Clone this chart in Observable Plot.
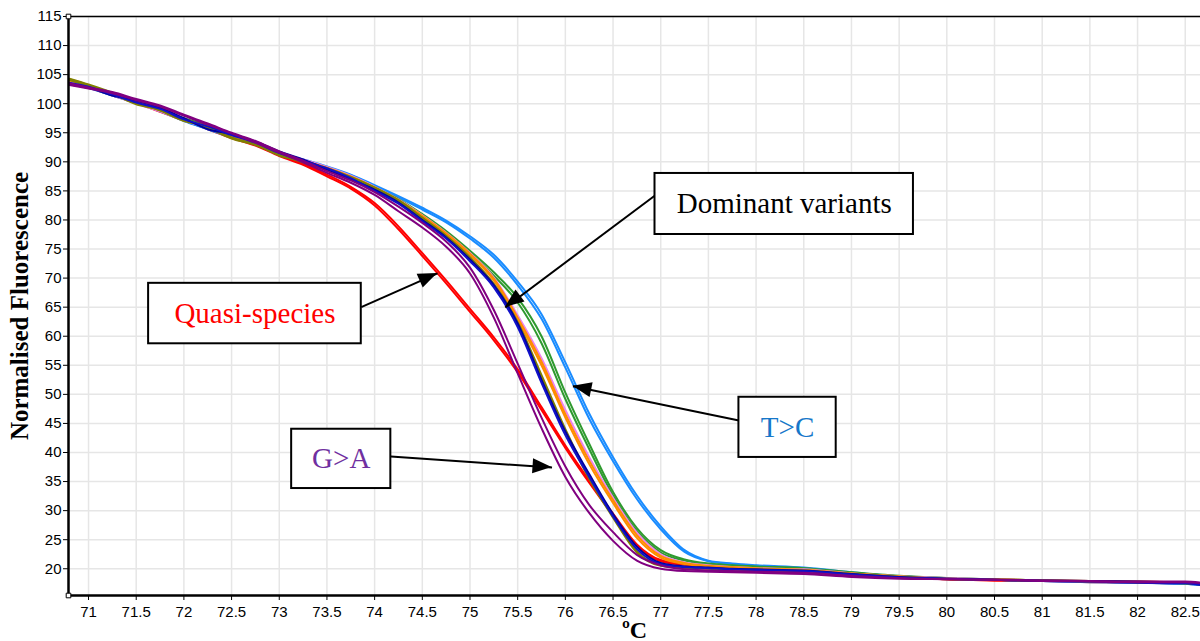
<!DOCTYPE html>
<html>
<head>
<meta charset="utf-8">
<script src="https://cdn.jsdelivr.net/npm/d3@7"></script>
<script src="https://cdn.jsdelivr.net/npm/@observablehq/plot@0.6"></script>
<style>
  html, body { margin: 0; padding: 0; background: #fff; }
  #chart svg { display: block; }
</style>
</head>
<body>
<div id="chart"></div>
<script>
// Melt-curve temperatures (ºC)
const temps = [70.8, 71, 71.25, 71.5, 71.75, 72, 72.25, 72.5, 72.75, 73, 73.25, 73.5, 73.75, 74, 74.25, 74.5, 74.75, 75, 75.25, 75.5, 75.75, 76, 76.25, 76.5, 76.75, 77, 77.25, 77.5, 77.75, 78, 78.5, 79, 79.5, 80, 80.5, 81, 81.5, 82, 82.5, 82.66];

// Normalised fluorescence, one array per sample
const quasiA = [103.6, 102.9, 101.6, 100.3, 98.8, 97.3, 95.8, 94.3, 93.0, 91.2, 89.7, 87.8, 85.7, 82.9, 78.9, 74.3, 69.6, 64.7, 59.8, 54.3, 47.8, 41.2, 35.2, 29.5, 24.2, 21.5, 20.8, 20.5, 20.3, 20.1, 19.8, 19.2, 18.6, 18.2, 18.0, 17.9, 17.8, 17.6, 17.5, 17.3];
const quasiB = [103.3, 102.7, 101.4, 100.1, 98.6, 97.1, 95.6, 94.1, 92.8, 91.0, 89.5, 87.5, 85.4, 82.5, 78.4, 73.8, 69.1, 64.2, 59.3, 53.8, 47.3, 40.8, 34.8, 29.2, 24.0, 21.3, 20.7, 20.4, 20.2, 20.0, 19.7, 19.1, 18.6, 18.2, 18.0, 17.9, 17.7, 17.6, 17.4, 17.3];
const tcA = [103.5, 102.8, 101.5, 100.2, 98.8, 97.1, 95.7, 94.4, 93.2, 91.3, 90.4, 89.2, 87.8, 86.0, 84.1, 82.1, 79.9, 77.2, 74.0, 69.4, 63.8, 55.5, 46.7, 39.2, 32.6, 27.3, 23.2, 21.4, 20.9, 20.6, 20.2, 19.4, 18.7, 18.3, 18.1, 17.9, 17.7, 17.6, 17.4, 17.2];
const tcB = [103.4, 102.7, 101.4, 100.1, 98.7, 97.0, 95.6, 94.2, 93.0, 91.2, 90.2, 89.0, 87.7, 85.8, 83.9, 81.8, 79.6, 76.8, 73.5, 68.8, 63.0, 54.6, 45.8, 38.5, 32.0, 26.8, 22.9, 21.3, 20.8, 20.5, 20.1, 19.3, 18.7, 18.3, 18.1, 17.9, 17.8, 17.6, 17.4, 17.2];
const greenA = [103.9, 103.1, 101.8, 100.6, 99.2, 97.5, 96.3, 94.6, 93.4, 91.6, 90.3, 88.8, 87.5, 85.5, 83.6, 81.0, 78.1, 74.7, 71.0, 66.6, 60.0, 50.3, 41.5, 33.2, 27.0, 23.2, 21.6, 20.9, 20.6, 20.4, 20.1, 19.4, 18.8, 18.4, 18.2, 18.0, 17.9, 17.7, 17.5, 17.3];
const greenB = [103.7, 102.9, 101.6, 100.4, 99.1, 97.4, 96.1, 94.4, 93.2, 91.4, 90.1, 88.7, 87.3, 85.3, 83.3, 80.7, 77.8, 74.3, 70.4, 65.8, 58.8, 49.2, 40.6, 32.6, 26.5, 22.8, 21.4, 20.8, 20.5, 20.3, 20.0, 19.3, 18.7, 18.4, 18.2, 18.0, 17.8, 17.7, 17.5, 17.3];
const pinkA = [103.8, 103.0, 101.5, 100.0, 98.7, 97.1, 95.9, 94.3, 93.1, 91.4, 90.4, 89.1, 87.6, 85.7, 83.5, 80.8, 77.8, 74.3, 70.1, 63.6, 56.2, 47.3, 39.2, 32.2, 26.2, 22.5, 21.1, 20.6, 20.3, 20.1, 19.9, 19.2, 18.7, 18.4, 18.2, 18.0, 17.9, 17.8, 17.6, 17.5];
const orangeA = [104.2, 103.2, 101.6, 100.2, 98.9, 97.4, 95.8, 94.4, 93.2, 91.5, 90.3, 88.9, 87.4, 85.5, 83.3, 80.6, 77.5, 74.0, 69.6, 62.8, 55.0, 46.0, 38.0, 31.3, 25.3, 21.9, 20.8, 20.4, 20.2, 20.0, 19.8, 19.2, 18.6, 18.3, 18.1, 18.0, 17.9, 17.8, 17.6, 17.4];
const orangeB = [104.0, 103.1, 101.8, 100.3, 99.0, 97.3, 96.0, 94.5, 93.4, 91.6, 90.2, 89.0, 87.5, 85.6, 83.4, 80.7, 77.7, 74.2, 69.9, 63.2, 55.6, 46.6, 38.6, 31.8, 25.8, 22.2, 21.0, 20.5, 20.3, 20.1, 19.8, 19.2, 18.7, 18.3, 18.2, 18.0, 17.9, 17.8, 17.6, 17.5];
const oliveA = [104.3, 103.3, 101.9, 100.1, 98.8, 97.0, 96.2, 94.2, 93.0, 91.1, 90.1, 88.9, 87.4, 85.6, 83.4, 80.4, 77.3, 73.6, 69.0, 62.4, 53.3, 44.0, 35.8, 29.2, 23.0, 20.6, 20.2, 20.1, 19.9, 19.8, 19.6, 19.1, 18.6, 18.2, 18.1, 18.0, 17.8, 17.7, 17.5, 17.4];
const oliveB = [104.1, 103.0, 101.7, 99.9, 99.0, 97.2, 95.9, 94.0, 92.9, 91.3, 89.9, 88.6, 87.2, 85.4, 83.2, 80.2, 77.1, 73.4, 68.7, 62.0, 52.8, 43.6, 35.5, 28.8, 22.8, 20.5, 20.1, 20.0, 19.9, 19.7, 19.6, 19.0, 18.6, 18.3, 18.1, 17.9, 17.9, 17.7, 17.6, 17.3];
const navyA = [103.3, 102.8, 101.4, 100.5, 99.3, 97.5, 95.6, 94.8, 93.5, 91.8, 90.4, 88.7, 87.0, 85.2, 83.0, 80.0, 77.0, 73.2, 68.8, 62.2, 52.5, 43.6, 36.3, 29.4, 23.8, 21.0, 20.4, 20.2, 20.0, 19.9, 19.7, 19.1, 18.6, 18.3, 18.1, 18.0, 17.9, 17.8, 17.6, 17.4];
const navyB = [103.6, 102.9, 101.6, 100.2, 99.1, 97.3, 96.1, 94.6, 93.3, 91.5, 90.2, 88.9, 87.2, 85.0, 82.8, 79.8, 76.8, 72.9, 68.4, 61.6, 52.0, 43.0, 35.8, 29.0, 23.4, 20.8, 20.3, 20.1, 19.9, 19.8, 19.6, 19.0, 18.5, 18.3, 18.1, 17.9, 17.8, 17.6, 17.5, 17.2];
const gaA = [103.2, 102.6, 101.8, 100.6, 99.5, 97.9, 96.4, 94.9, 93.3, 91.6, 89.9, 88.1, 86.4, 84.3, 81.5, 78.7, 75.4, 70.8, 63.2, 53.6, 44.2, 35.8, 29.6, 24.8, 21.4, 20.0, 19.6, 19.5, 19.4, 19.3, 19.1, 18.6, 18.3, 18.2, 18.1, 17.9, 17.8, 17.7, 17.7, 17.6];
const gaB = [103.5, 102.8, 102.0, 100.8, 99.7, 98.1, 96.6, 95.0, 93.6, 91.8, 90.2, 88.4, 86.8, 84.8, 82.3, 79.5, 76.3, 71.8, 64.5, 55.3, 46.0, 37.6, 31.0, 26.3, 22.4, 20.6, 19.9, 19.7, 19.6, 19.5, 19.3, 18.8, 18.4, 18.2, 18.1, 18.0, 17.9, 17.8, 17.8, 17.6];

// Axis ticks
const xTicks = [71, 71.5, 72, 72.5, 73, 73.5, 74, 74.5, 75, 75.5, 76, 76.5, 77, 77.5, 78, 78.5, 79, 79.5, 80, 80.5, 81, 81.5, 82, 82.5];
const yTicks = [20, 25, 30, 35, 40, 45, 50, 55, 60, 65, 70, 75, 80, 85, 90, 95, 100, 105, 110, 115];

// Callouts: label, box extent (ºC / fluorescence) and arrow from box to curve
const noteLabels = ["Dominant variants", "Quasi-species", "T>C", "G>A"];
const noteBoxes = [[76.94, 79.65, 77.5, 88.0], [71.63, 73.86, 58.7, 69.1], [77.82, 78.84, 39.15, 49.5], [73.13, 74.17, 33.8, 44.0]];
const noteArrows = [[76.94, 84.2, 75.37, 64.95], [73.86, 65.0, 74.66, 70.8], [77.82, 45.5, 76.08, 51.4], [74.17, 39.3, 75.86, 37.4]];

// Drawing order and colours of the samples
const samples = [
  {values: quasiA, color: "#ff0000"},
  {values: quasiB, color: "#ff0000"},
  {values: tcA, color: "#1a8cff"},
  {values: tcB, color: "#1a8cff"},
  {values: greenA, color: "#2f9a2f"},
  {values: greenB, color: "#2f9a2f"},
  {values: pinkA, color: "#ee82ee"},
  {values: orangeA, color: "#ff8c00"},
  {values: orangeB, color: "#ff8c00"},
  {values: oliveA, color: "#808000"},
  {values: oliveB, color: "#808000"},
  {values: navyA, color: "#00009c"},
  {values: navyB, color: "#1010c8"},
  {values: gaA, color: "#800080"},
  {values: gaB, color: "#800080"}
];
const noteColors = ["#000000", "#ff0000", "#1677c9", "#7030a0"];

const xDomain = [70.79, 82.66];
const yDomain = [15.4, 115];

const notes = noteLabels.map((label, i) => ({
  label,
  color: noteColors[i],
  left: noteBoxes[i][0], right: noteBoxes[i][1], bottom: noteBoxes[i][2], top: noteBoxes[i][3],
  fromT: noteArrows[i][0], fromV: noteArrows[i][1], toT: noteArrows[i][2], toV: noteArrows[i][3]
}));

const curveMarks = samples.map(s =>
  Plot.line(temps.map((t, i) => ({t, v: s.values[i]})), {
    x: "t", y: "v", stroke: s.color, strokeWidth: 2, curve: "monotone-x"
  })
);

// Filled arrowheads at the curve end of each callout arrow
const arrowHeads = (index, scales) => {
  const g = d3.create("svg:g");
  for (const n of notes) {
    const x1 = scales.x(n.fromT), y1 = scales.y(n.fromV);
    const x2 = scales.x(n.toT), y2 = scales.y(n.toV);
    const a = Math.atan2(y2 - y1, x2 - x1);
    const L = 19, W = 7.5;
    const bx = x2 - L * Math.cos(a), by = y2 - L * Math.sin(a);
    const p = [[x2, y2], [bx + W * Math.sin(a), by - W * Math.cos(a)], [bx - W * Math.sin(a), by + W * Math.cos(a)]];
    g.append("path").attr("d", "M" + p.join("L") + "Z").attr("fill", "#000");
  }
  return g.node();
};

const chart = Plot.plot({
  width: 1200,
  height: 641,
  marginLeft: 68,
  marginRight: 0,
  marginTop: 16,
  marginBottom: 46,
  style: {fontFamily: "'Liberation Sans', Arial, sans-serif", fontSize: "15px", color: "#000", background: "#fff", overflow: "visible"},
  x: {domain: xDomain, ticks: xTicks, tickFormat: d => String(d), tickSize: 5, tickPadding: 6, label: null},
  y: {domain: yDomain, ticks: yTicks, tickFormat: d => String(d), tickSize: 5, tickPadding: 2, label: null},
  marks: [
    Plot.ruleX(xTicks, {stroke: "#e6e6e6", strokeWidth: 1.5}),
    Plot.ruleY(yTicks, {stroke: "#e6e6e6", strokeWidth: 1.5}),
    ...curveMarks,
    Plot.ruleY([yDomain[1]], {stroke: "#000", strokeWidth: 1.5}),
    Plot.ruleX([xDomain[0]], {stroke: "#000", strokeWidth: 2.5}),
    Plot.ruleY([yDomain[0]], {stroke: "#000", strokeWidth: 2.5}),
    Plot.dot([[xDomain[0], yDomain[1]], [xDomain[0], yDomain[0]]], {x: d => d[0], y: d => d[1], symbol: "square", r: 2.6, fill: "#fff", stroke: "#000", strokeWidth: 1}),
    Plot.link(notes, {x1: "fromT", y1: "fromV", x2: "toT", y2: "toV", stroke: "#000", strokeWidth: 2}),
    Plot.rect(notes, {x1: "left", x2: "right", y1: "bottom", y2: "top", fill: "#fff", stroke: "#000", strokeWidth: 2}),
    ...notes.map(n => Plot.text([n], {
      x: d => (d.left + d.right) / 2, y: d => (d.bottom + d.top) / 2, text: "label",
      fill: n.color, fontFamily: "'Liberation Serif', 'Times New Roman', serif", fontSize: 29
    })),
    arrowHeads,
    Plot.text(["Normalised Fluorescence"], {
      frameAnchor: "left", dx: -49, rotate: -90, text: d => d, textAnchor: "middle",
      fontFamily: "'Liberation Serif', 'Times New Roman', serif", fontWeight: "bold", fontSize: 25, fill: "#000"
    }),
    Plot.text(["ºC"], {
      frameAnchor: "bottom", dy: 42, text: d => d, textAnchor: "middle",
      fontFamily: "'Liberation Serif', 'Times New Roman', serif", fontWeight: "bold", fontSize: 24, fill: "#000"
    })
  ]
});

document.getElementById("chart").appendChild(chart);
</script>
</body>
</html>
